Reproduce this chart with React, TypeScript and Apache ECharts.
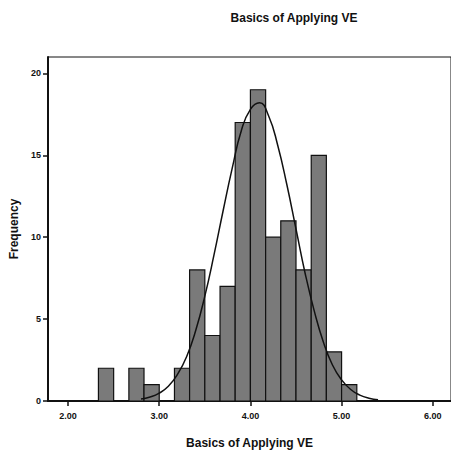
import React, { useEffect, useRef } from "react";
import * as echarts from "echarts";

// Histogram bins: [start, end, frequency]
const binStarts = [2.333, 2.667, 2.833, 3.167, 3.333, 3.5, 3.667, 3.833, 4.0, 4.167, 4.333, 4.5, 4.667, 4.833, 5.0];
const binEnds = [2.5, 2.833, 3.0, 3.333, 3.5, 3.667, 3.833, 4.0, 4.167, 4.333, 4.5, 4.667, 4.833, 5.0, 5.167];
const frequencies = [2, 2, 1, 2, 8, 4, 7, 17, 19, 10, 11, 8, 15, 3, 1];

// Normal curve, points
const curveX = [2.8, 2.9, 3.0, 3.1, 3.2, 3.3, 3.4, 3.5, 3.6, 3.7, 3.8, 3.9, 4.0, 4.1, 4.2, 4.3, 4.4, 4.5, 4.6, 4.7, 4.8, 4.9, 5.0, 5.1, 5.2, 5.3, 5.4];
const curveY = [0.12, 0.24, 0.48, 0.9, 1.62, 2.7, 4.3, 6.4, 8.9, 11.6, 14.2, 16.5, 17.8, 18.2, 17.4, 15.6, 13.2, 10.5, 7.8, 5.5, 3.6, 2.2, 1.29, 0.7, 0.36, 0.17, 0.08];

const xTicks = [2, 3, 4, 5, 6];
const yTicks = [0, 5, 10, 15, 20];

const titleText = "Basics of Applying VE";
const xName = "Basics of Applying VE";
const yName = "Frequency";

const X_MIN = 1.78;
const X_MAX = 6.2;

export default function App() {
  const ref = useRef<HTMLDivElement>(null);
  useEffect(() => {
    document.body.style.margin = "0";
    const chart = echarts.init(ref.current!, null, { renderer: "svg" });
    const font = "'Liberation Sans', Arial, sans-serif";
    const bins = binStarts.map((s, i) => [s, binEnds[i], frequencies[i]]);
    chart.setOption({
      animation: false,
      backgroundColor: "#ffffff",
      graphic: [
        {
          type: "text",
          x: 294,
          y: 18,
          style: {
            text: titleText,
            font: "bold 12px " + font,
            fill: "#111",
            textAlign: "center",
            textVerticalAlign: "middle",
          },
        },
      ],
      grid: {
        left: 43,
        top: 57,
        right: 0,
        bottom: 50,
        show: true,
        borderColor: "#111",
        borderWidth: 1,
        backgroundColor: "transparent",
      },
      xAxis: [
        {
          type: "value",
          min: X_MIN,
          max: X_MAX,
          name: xName,
          nameLocation: "middle",
          nameGap: 36,
          nameTextStyle: { fontFamily: font, fontWeight: "bold", fontSize: 12, color: "#111" },
          axisLine: { show: true, onZero: false, lineStyle: { color: "#111", width: 2 } },
          axisTick: { show: true, inside: false, length: 5, customValues: xTicks, lineStyle: { color: "#111", width: 1.5 } },
          axisLabel: {
            customValues: xTicks,
            formatter: (v: number) => v.toFixed(2),
            fontFamily: font,
            fontWeight: "bold",
            fontSize: 9,
            color: "#111",
            margin: 10,
          },
          splitLine: { show: false },
        },
      ],
      yAxis: [
        {
          type: "value",
          min: 0,
          max: 21,
          name: yName,
          nameLocation: "middle",
          nameGap: 28,
          nameRotate: 90,
          nameTextStyle: { fontFamily: font, fontWeight: "bold", fontSize: 12, color: "#111" },
          axisLine: { show: true, onZero: false, lineStyle: { color: "#111", width: 2 } },
          axisTick: { show: true, inside: false, length: 5, customValues: yTicks, lineStyle: { color: "#111", width: 1.5 } },
          axisLabel: {
            customValues: yTicks,
            fontFamily: font,
            fontWeight: "bold",
            fontSize: 9,
            color: "#111",
            margin: 7,
          },
          splitLine: { show: false },
        },
      ],
      series: [
        {
          type: "custom",
          data: bins,
          encode: { x: [0, 1], y: 2 },
          renderItem: (params: any, api: any) => {
            const p0 = api.coord([api.value(0), api.value(2)]);
            const p1 = api.coord([api.value(1), 0]);
            return {
              type: "rect",
              shape: { x: p0[0], y: p0[1], width: p1[0] - p0[0], height: p1[1] - p0[1] },
              style: { fill: "#7a7a7a", stroke: "#111", lineWidth: 1.2 },
            };
          },
          z: 2,
        },
        {
          type: "line",
          data: curveX.map((x, i) => [x, curveY[i]]),
          smooth: true,
          symbol: "none",
          lineStyle: { color: "#111", width: 1.5 },
          z: 3,
        },
      ],
    });
    return () => chart.dispose();
  }, []);
  return <div ref={ref} style={{ width: 451, height: 454 }} />;
}
